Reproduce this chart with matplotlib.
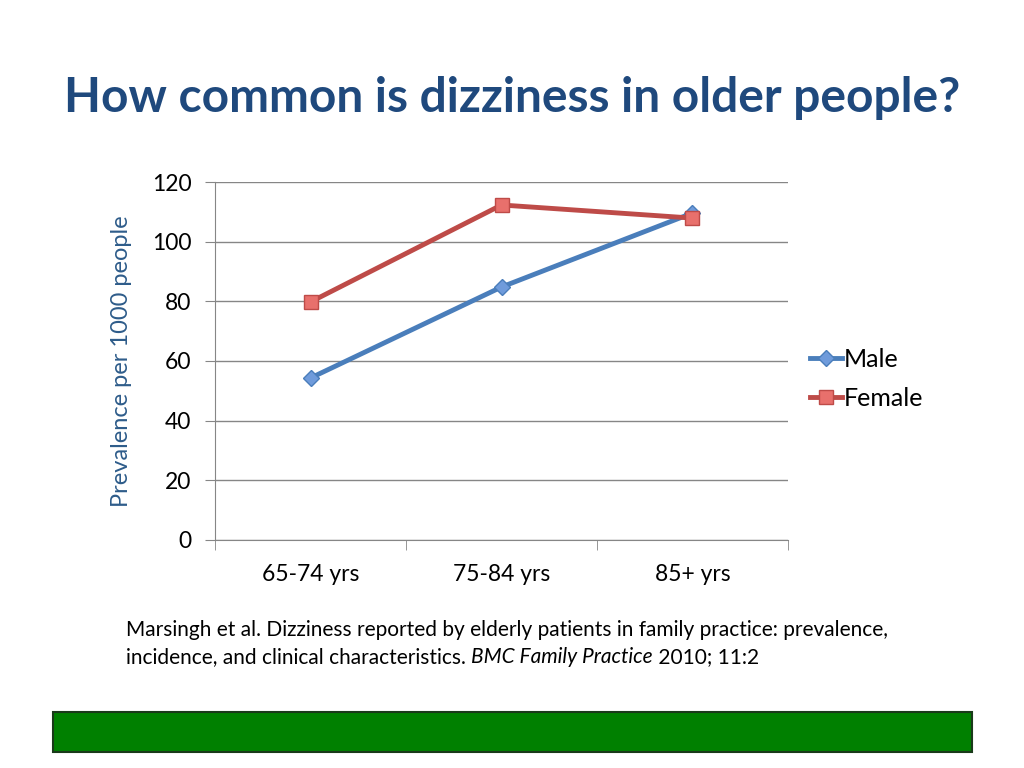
import matplotlib.pyplot as plt
from matplotlib.patches import Rectangle

# data
age_groups = ['65-74 yrs', '75-84 yrs', '85+ yrs']
male = [54.3, 84.8, 109.6]
female = [79.8, 112.3, 107.9]
y_ticks = [0, 20, 40, 60, 80, 100, 120]

plt.rcParams['font.family'] = ['Lato', 'DejaVu Sans']

fig = plt.figure(figsize=(10.24, 7.68), dpi=100)
fig.patch.set_facecolor('white')

fig.text(0.5, 0.873, 'How common is dizziness in older people?', ha='center', va='center',
         fontsize=34.5, fontweight='bold', color='#1F497D')

ax = fig.add_axes([0.21, 0.2969, 0.5595, 0.4661])
x = list(range(len(age_groups)))
ax.plot(x, male, color='#4A7EBB', linewidth=3.5, marker='D', markersize=8,
        markerfacecolor='#6F9BDB', markeredgecolor='#4A7EBB', label='Male')
ax.plot(x, female, color='#BE4B48', linewidth=3.5, marker='s', markersize=10,
        markerfacecolor='#E8706C', markeredgecolor='#BE4B48', label='Female')

ax.set_xlim(-0.5, 2.5)
ax.set_ylim(0, 120)
ax.set_yticks(y_ticks)
ax.set_xticks(x)
ax.set_xticklabels(age_groups)
ax.set_xticks([-0.5, 0.5, 1.5, 2.5], minor=True)
ax.tick_params(axis='x', which='major', length=0, pad=17, labelsize=16.5)
ax.tick_params(axis='x', which='minor', length=7, color='#868686', direction='out')
ax.tick_params(axis='y', length=7, color='#868686', labelsize=16.5, pad=10)
ax.grid(axis='y', color='#868686', linewidth=1)
ax.set_axisbelow(True)
for s in ['top', 'right']:
    ax.spines[s].set_visible(False)
for s in ['left', 'bottom']:
    ax.spines[s].set_color('#868686')
ax.set_ylabel('Prevalence per 1000 people', fontsize=17, color='#2E5C8A', labelpad=14)

ax.legend(loc='center left', bbox_to_anchor=(1.0, 0.45), frameon=False, fontsize=18,
          handlelength=1.25, handletextpad=0.1, labelspacing=0.65)

# citation, with the journal name in italics
fs = 15
t1 = fig.text(0.123, 0.18, 'Marsingh et al. Dizziness reported by elderly patients in family practice: prevalence,',
              fontsize=fs, va='center')
t2 = fig.text(0.123, 0.144, 'incidence, and clinical characteristics. ', fontsize=fs, va='center')
r = fig.canvas.get_renderer()
x2 = fig.transFigure.inverted().transform(t2.get_window_extent(r))[1][0]
t3 = fig.text(x2, 0.144, 'BMC Family Practice', fontsize=fs, va='center', style='italic')
x3 = fig.transFigure.inverted().transform(t3.get_window_extent(r))[1][0]
fig.text(x3, 0.144, ' 2010; 11:2', fontsize=fs, va='center')

fig.add_artist(Rectangle((53 / 1024, 1 - 752 / 768), 919 / 1024, 40 / 768,
                         transform=fig.transFigure, facecolor='#008000', edgecolor='#1A3A1A',
                         linewidth=1.5))

plt.savefig('out.png', dpi=100)
